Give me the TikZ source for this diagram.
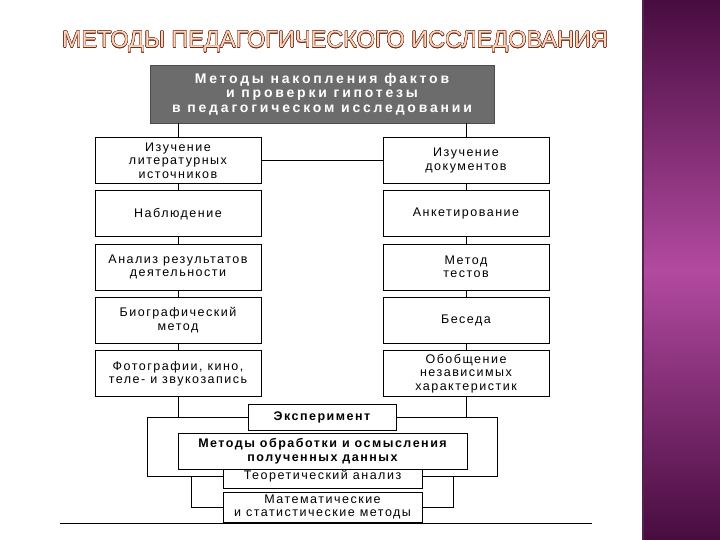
\documentclass[tikz,border=0pt]{standalone}
\usepackage{fontspec}
\usepackage{contour}
\setmainfont{Liberation Sans}
\newfontfamily\boxfamily[LetterSpace=12]{Liberation Sans}
\newfontfamily\headfamily[LetterSpace=20]{Liberation Sans}
\newfontfamily\titlefamily{Liberation Sans}
\usetikzlibrary{positioning, calc}
\definecolor{TitleFill}{RGB}{252, 214, 186}
\definecolor{TitleEdge}{RGB}{112, 42, 26}
\definecolor{HeadGray}{RGB}{108, 108, 108}
\definecolor{BandDark}{RGB}{72, 12, 64}
\definecolor{BandMid}{RGB}{178, 74, 160}
\contourlength{0.35pt}

\begin{document}
\begin{tikzpicture}[x=1pt, y=-1pt,
        node distance=6.5pt,
        box/.style={rectangle, draw=black, fill=white, line width=0.8pt, minimum width=166pt, minimum height=46pt, inner sep=1pt, align=center, font=\boxfamily\fontsize{12.5}{13.5}\selectfont},
        headbox/.style={rectangle, draw=black!70, fill=HeadGray, text=white, line width=0.8pt, minimum width=344pt, minimum height=58pt, align=center, font=\headfamily\bfseries\fontsize{14}{14.5}\selectfont},
        bottombox/.style={box, minimum width=199pt},
        link/.style={line width=0.8pt}
    ]
        \useasboundingbox (0,0) rectangle (720,540);

        % Side band
        \shade[top color=BandDark, bottom color=BandDark, middle color=BandMid] (642,0) rectangle (720,540);
        \fill[BandDark!80!gray] (642,0) rectangle (644,540);

        % Title
        \node[font=\titlefamily\fontsize{23.5}{24}\selectfont, text=TitleFill] (title) at (335,42) {\contour{TitleEdge}{МЕТОДЫ ПЕДАГОГИЧЕСКОГО ИССЛЕДОВАНИЯ}};

        % Head
        \node[headbox] (head) at (322,94) {Методы накопления фактов\\и проверки гипотезы\\в педагогическом исследовании};

        % Left column
        \node[box, anchor=north] (lit) at (178,137) {Изучение\\литературных\\источников};
        \node[box, below=of lit] (obs) {Наблюдение};
        \node[box, below=of obs] (res) {Анализ результатов\\деятельности};
        \node[box, below=of res] (bio) {Биографический\\метод};
        \node[box, below=of bio] (photo) {Фотографии, кино,\\теле- и звукозапись};

        % Right column
        \node[box, anchor=north] (doc) at (466,137) {Изучение\\документов};
        \node[box, below=of doc] (quest) {Анкетирование};
        \node[box, below=of quest] (test) {Метод\\тестов};
        \node[box, below=of test] (talk) {Беседа};
        \node[box, below=of talk] (gen) {Обобщение\\независимых\\характеристик};

        % Bottom part
        \node[box, minimum width=148pt, minimum height=26pt, font=\boxfamily\bfseries\fontsize{12.5}{13.5}\selectfont] (exp) at (322,417) {Эксперимент};
        \node[bottombox, minimum height=23pt] (theo) at (322.5,476.5) {\raisebox{-2pt}{Теоретический анализ}};
        \node[box, minimum width=289pt, minimum height=36pt, font=\boxfamily\bfseries\fontsize{12.5}{13.5}\selectfont] (proc) at (322.5,451) {Методы обработки и осмысления\\полученных данных};
        \node[bottombox, minimum height=30pt] (math) at (322.5,507) {Математические\\и статистические методы};

        \coordinate (lj) at (147,417);
        \coordinate (rj) at (497,417);
        \coordinate (lb) at (191,477);
        \coordinate (rb) at (453,477);

        % Connections
        \draw[link] (head.south -| lit.north) -- (lit.north);
        \draw[link] (head.south -| doc.north) -- (doc.north);
        \draw[link] (lit.east) -- (doc.west);
        \foreach \a/\b in {lit/obs, obs/res, res/bio, bio/photo, doc/quest, quest/test, test/talk, talk/gen}
            \draw[link] (\a.south) -- (\b.north);
        \draw[link] (photo.south) |- (exp.west);
        \draw[link] (gen.south) |- (exp.east);
        \draw[link] (exp.west) -- (lj) |- (theo.west);
        \draw[link] (exp.east) -- (rj) |- (theo.east);
        \draw[link] (lb) |- (math.west);
        \draw[link] (rb) |- (math.east);

        % Rule
        \draw[line width=0.8pt] (60,523) -- (592,523);
    \end{tikzpicture}
\end{document}
